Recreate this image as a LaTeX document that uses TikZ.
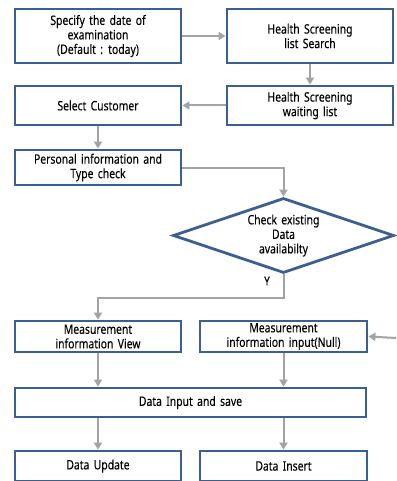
\documentclass[tikz,border=0pt]{standalone}
\usepackage{fontspec}
\setmainfont{Noto Sans}[FakeStretch=0.8, FakeBold=0.05, WordSpace=1.6]
\usetikzlibrary{shapes.geometric, arrows.meta, positioning, calc}
\definecolor{colorBorde}{HTML}{3B5F90}
\definecolor{colorFlecha}{HTML}{A3A3A3}

\begin{document}
\begin{tikzpicture}[
        x=1pt, y=-1pt,
        m/.style={draw=colorBorde, fill=white, line width=2.8pt, inner sep=1pt,
            minimum width=166pt, align=center, font=\fontsize{13}{14.5}\selectfont},
        dec/.style={m, shape=diamond, minimum width=221pt, minimum height=75pt, aspect=2.9},
        rel/.style={-{Triangle[length=7pt, width=8pt]}, colorFlecha, line width=2pt}
    ]
        \useasboundingbox (0,0) rectangle (396,481);
        \node[m, minimum height=54pt] (fecha) at (98,36) {Specify the date of\\examination\\(Default : today)};
        \node[m, minimum height=54pt] (busca) at (310,36) {Health Screening\\list Search};
        \node[m, minimum height=39pt] (espera) at (310,105.5) {Health Screening\\waiting list};
        \node[m, minimum height=39pt] (cliente) at (98,105.5) {Select Customer};
        \node[m, minimum height=35pt] (personal) at (98,167.5) {Personal information and\\Type check};
        \node[dec] (existe) at (283.5,235.5) {Check existing\\Data\\availabilty};
        \node[m, minimum height=31pt] (vista) at (98,336.5) {Measurement\\information View};
        \node[m, minimum height=31pt, minimum width=167pt] (entrada) at (283.5,336.5) {Measurement\\information input(Null)};
        \node[m, minimum height=29pt, minimum width=351pt] (guarda) at (190.5,402.5) {Data Input and save};
        \node[m, minimum height=30pt] (actual) at (98,466) {Data Update};
        \node[m, minimum height=30pt, minimum width=167pt] (inserta) at (283.5,466) {Data Insert};
        \node[font=\fontsize{12.5}{12}\selectfont] (si) at (267,281) {Y};
        \coordinate (otro) at (396,338);
        \draw[rel] (fecha)--(busca); \draw[rel] (busca)--(espera);
        \draw[rel] (espera)--(cliente); \draw[rel] (cliente)--(personal);
        \draw[rel] (personal.east)-|(existe.north);
        \draw[rel] (existe.south)--++(0,24)-|(vista.north);
        \draw[rel] (otro)--(entrada.east);
        \draw[rel] (vista)--(vista|-guarda.north); \draw[rel] (entrada)--(entrada|-guarda.north);
        \draw[rel] (actual|-guarda.south)--(actual); \draw[rel] (inserta|-guarda.south)--(inserta);
    \end{tikzpicture}
\end{document}
